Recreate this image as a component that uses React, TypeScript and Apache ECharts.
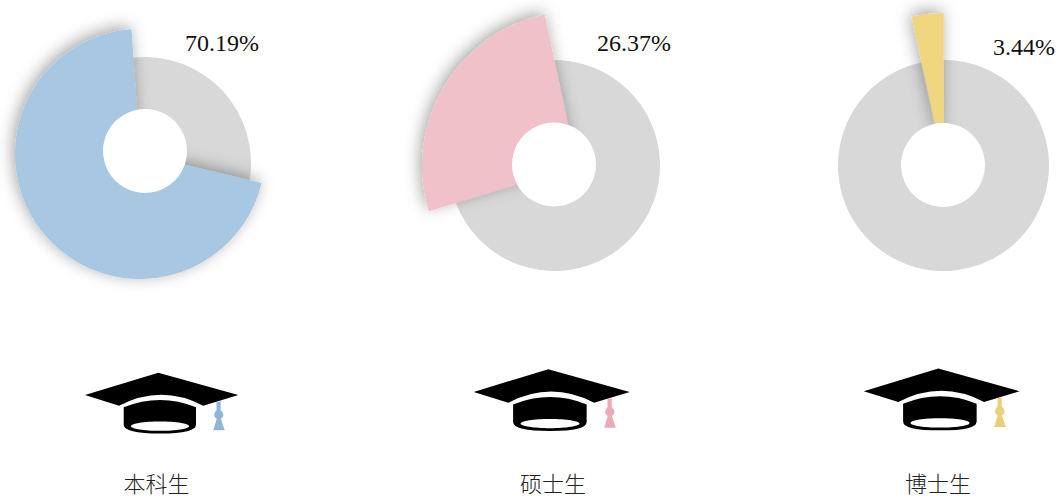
import React, { useEffect, useRef } from "react";
import * as echarts from "echarts";

const categories = ["本科生", "硕士生", "博士生"];
const shares = [70.19, 26.37, 3.44];
const colors = ["#A8C7E3", "#F0C1C9", "#F0D77F"];
const tasselColors = ["#8FB6DA", "#EBAAB6", "#EBD07C"];
const GRAY = "#D8D8D8";

const sliceLayout = [
  { cx: 140, cy: 154, r: 125, start: -13.4 },
  { cx: 577, cy: 166, r: 155, start: 197 },
  { cx: 943.7, cy: 163, r: 150, start: 102.4 },
];
const ringLayout = [
  { cx: 145, cy: 163, r: 106, hx: 145, hy: 151 },
  { cx: 554.5, cy: 165.5, r: 105.5, hx: 554, hy: 164.5 },
  { cx: 943.5, cy: 165.5, r: 105.5, hx: 943, hy: 165 },
];
const HOLE_R = 42;
const valueLayout = [
  { x: 185, y: 43 },
  { x: 597, y: 43 },
  { x: 993, y: 47 },
];
const nameCenters = [156.5, 553, 938];
const capLayout = [
  { x: 158.3, y: 372.7, s: 1 },
  { x: 548.3, y: 369.2, s: 1.017 },
  { x: 938.3, y: 368.5, s: 1.017 },
];

// Mortarboard relative to its apex
const CAP_D =
  "M0 0 L80 22.3 L45 33 Q3 11 -39.3 33 L-73.3 22.3 Z " +
  "M-34.6 34.6 Q2 20 37.7 34.6 L37.7 52 Q37.7 60.8 2 60.8 Q-34.6 60.8 -34.6 52 Z";
const TASSEL_D =
  "M58.2 29.5 L62.4 28.5 L62.4 37.5 Q65.2 39.5 65.2 42.3 Q65.2 44.8 62.6 46 L66.4 57.5 L55 57.5 L58.4 46 Q55.8 44.8 55.8 42.3 Q55.8 39.5 58.2 37.5 Z";

echarts.graphic.registerShape("capBlack", echarts.graphic.extendPath(CAP_D, {}) as any);
echarts.graphic.registerShape("capTassel", echarts.graphic.extendPath(TASSEL_D, {}) as any);

export default function App() {
  const ref = useRef<HTMLDivElement>(null);
  useEffect(() => {
    document.body.style.margin = "0";
    const chart = echarts.init(ref.current!, undefined, { renderer: "svg" });
    const base = {
      type: "pie" as const,
      silent: true,
      clockwise: true,
      label: { show: false },
      labelLine: { show: false },
      emphasis: { disabled: true },
      animation: false,
    };
    const series: any[] = [];
    shares.forEach((v, i) => {
      const g = ringLayout[i];
      series.push({
        ...base,
        name: categories[i] + "-rest",
        center: [g.cx, g.cy],
        radius: [0, g.r],
        itemStyle: { color: GRAY },
        data: [{ value: 100 - v }, { value: v }],
      });
    });
    shares.forEach((v, i) => {
      const s = sliceLayout[i];
      series.push({
        ...base,
        name: categories[i],
        center: [s.cx, s.cy],
        radius: [0, s.r],
        startAngle: s.start,
        data: [
          {
            value: v,
            itemStyle: {
              color: colors[i],
              shadowBlur: 16,
              shadowColor: "rgba(0,0,0,0.36)",
              shadowOffsetX: -2,
              shadowOffsetY: -3,
            },
          },
          { value: 100 - v, itemStyle: { color: "transparent" } },
        ],
      });
    });
    const graphic: any[] = [];
    ringLayout.forEach((g) => {
      graphic.push({
        type: "circle",
        z: 100,
        silent: true,
        shape: { cx: g.hx, cy: g.hy, r: HOLE_R },
        style: { fill: "#fff" },
      });
    });
    shares.forEach((v, i) => {
      graphic.push({
        type: "text",
        z: 101,
        silent: true,
        x: valueLayout[i].x,
        y: valueLayout[i].y,
        style: {
          text: v.toFixed(2) + "%",
          fontFamily: "Liberation Serif",
          fontSize: 24,
          fill: "#111",
          textAlign: "left",
          textVerticalAlign: "middle",
        },
      });
      graphic.push({
        type: "text",
        z: 101,
        silent: true,
        x: nameCenters[i],
        y: 482,
        style: {
          text: categories[i],
          fontFamily: "Noto Sans CJK SC",
          fontWeight: 300,
          fontSize: 22,
          fill: "#222",
          textAlign: "center",
          textVerticalAlign: "middle",
        },
      });
      const c = capLayout[i];
      graphic.push({
        type: "group",
        x: c.x,
        y: c.y,
        scaleX: c.s,
        scaleY: c.s,
        z: 101,
        silent: true,
        children: [
          { type: "capTassel", z: 101, style: { fill: tasselColors[i] } },
          { type: "capBlack", z: 102, style: { fill: "#000" } },
          {
            type: "ellipse",
            z: 103,
            shape: { cx: 1.7, cy: 53.5, rx: 29, ry: 4.6 },
            style: { fill: "#fff" },
          },
        ],
      });
    });
    chart.setOption({ animation: false, backgroundColor: "#fff", series, graphic });
    return () => chart.dispose();
  }, []);
  return <div ref={ref} style={{ position: "absolute", left: 0, top: 0, width: 1060, height: 497 }} />;
}
